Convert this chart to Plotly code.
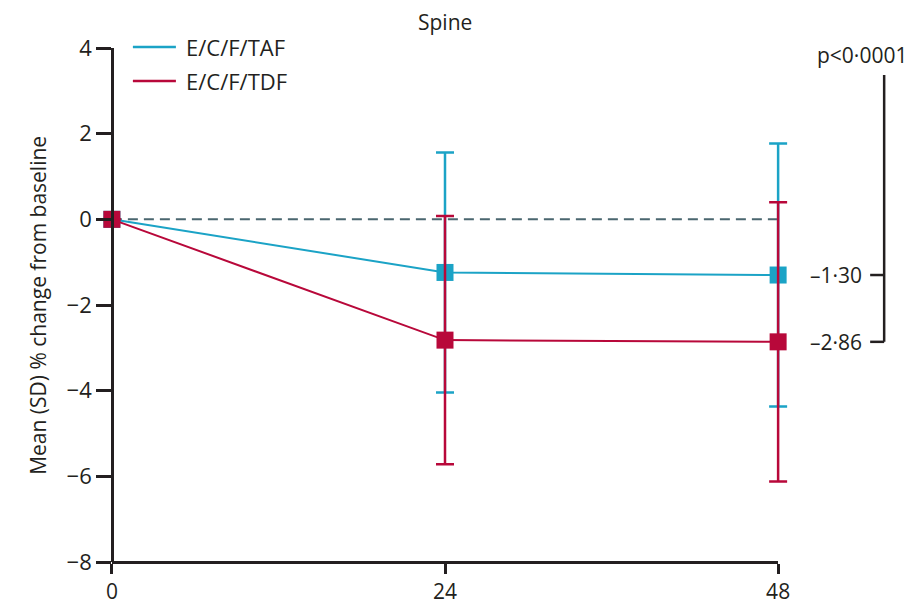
import plotly.graph_objects as go

# Weeks on study and mean (SD) percentage change in spine BMD
weeks = [0, 24, 48]
taf_mean = [0.0, -1.24, -1.30]
taf_sd = [0.0, 2.80, 3.07]
tdf_mean = [0.0, -2.82, -2.86]
tdf_sd = [0.0, 2.90, 3.26]

series_names = ["E/C/F/TAF", "E/C/F/TDF"]
taf_color = "#1ba3c6"
tdf_color = "#b8083a"
ink = "#231f20"

y_ticks = [4, 2, 0, -2, -4, -6, -8]
x_ticks = [0, 24, 48]
p_label = "p<0·0001"
final_labels = ["–1·30", "–2·86"]
final_values = [taf_mean[-1], tdf_mean[-1]]

font_family = "Open Sans"

# Layout geometry (pixels): visible axis spans 0..48 weeks, data axis is padded
# by one week each side so end markers and error bars are never clipped.
W_FIG, H_FIG = 917, 604
AX_LEFT, AX_RIGHT = 112, 778
pad_weeks = 1.0
px_per_week = (AX_RIGHT - AX_LEFT) / 48
PLOT_L = AX_LEFT - pad_weeks * px_per_week
PLOT_W = (48 + 2 * pad_weeks) * px_per_week
PLOT_R = W_FIG - PLOT_L - PLOT_W
PLOT_T, PLOT_B = 48, 42
PLOT_H = H_FIG - PLOT_T - PLOT_B


def px_x(px):
    return (px - PLOT_L) / PLOT_W


def px_y(py):
    return (H_FIG - PLOT_B - py) / PLOT_H


fig = go.Figure()

for mean, sd, color in [(taf_mean, taf_sd, taf_color), (tdf_mean, tdf_sd, tdf_color)]:
    fig.add_trace(go.Scatter(
        x=weeks, y=mean,
        mode="lines+markers",
        line=dict(color=color, width=2),
        marker=dict(symbol="square", size=17, color=color),
        error_y=dict(type="data", array=sd, visible=True, color=color,
                     thickness=2.5, width=9),
        showlegend=False,
        cliponaxis=False,
    ))

# Reference line at zero change
fig.add_shape(type="line", xref="x", yref="y", x0=0, x1=48, y0=0, y1=0,
              line=dict(color="#4a666f", width=2, dash="10px,6px"), layer="below")

# Hand-drawn legend
for i, (name, color) in enumerate(zip(series_names, [taf_color, tdf_color])):
    ypos = px_y(47 + i * 34)
    fig.add_shape(type="line", xref="paper", yref="paper",
                  x0=px_x(133), x1=px_x(176), y0=ypos, y1=ypos,
                  line=dict(color=color, width=2.5))
    fig.add_annotation(xref="paper", yref="paper", x=px_x(184), y=ypos,
                       text=name, showarrow=False, xanchor="left",
                       yanchor="middle",
                       font=dict(family=font_family, size=22, color=ink))

# Bracket on the right comparing week-48 means
bx = px_x(884)
tx = px_x(870)
fig.add_shape(type="line", xref="paper", yref="y", x0=bx, x1=bx,
              y0=3.37, y1=final_values[1], line=dict(color=ink, width=2.5))
for lab, val in zip(final_labels, final_values):
    fig.add_shape(type="line", xref="paper", yref="y", x0=tx, x1=bx,
                  y0=val, y1=val, line=dict(color=ink, width=2.5))
    fig.add_annotation(xref="paper", yref="y", x=px_x(864), y=val, text=lab,
                       showarrow=False, xanchor="right", yanchor="middle",
                       font=dict(family=font_family, size=21, color=ink))
fig.add_annotation(xref="paper", yref="y", x=px_x(862), y=3.84, text=p_label,
                   showarrow=False, xanchor="center", yanchor="middle",
                   font=dict(family=font_family, size=21, color=ink))

# Title and y-axis title
fig.add_annotation(xref="paper", yref="paper", x=px_x(445), y=px_y(22),
                   text="Spine", showarrow=False, xanchor="center",
                   yanchor="middle",
                   font=dict(family=font_family, size=21, color=ink))
fig.add_annotation(xref="paper", yref="paper", x=px_x(38), y=0.5,
                   text="Mean (SD) % change from baseline", textangle=-90,
                   showarrow=False, xanchor="center", yanchor="middle",
                   font=dict(family=font_family, size=21, color=ink))

axis_style = dict(showgrid=False, zeroline=False, showline=True,
                  linecolor=ink, linewidth=2.5, ticks="outside",
                  tickwidth=2.5, tickcolor=ink, automargin=False)

d0 = pad_weeks / (48 + 2 * pad_weeks)
fig.update_layout(
    width=W_FIG, height=H_FIG,
    margin=dict(l=PLOT_L, r=PLOT_R, t=PLOT_T, b=PLOT_B),
    plot_bgcolor="rgba(0,0,0,0)", paper_bgcolor="white",
    showlegend=False,
    # data axis (hidden), padded
    xaxis=dict(range=[-pad_weeks, 48 + pad_weeks], visible=False,
               automargin=False, domain=[0, 1]),
    # visible week axis spanning exactly 0..48, at the bottom of the plot
    xaxis2=dict(range=[0, 48], domain=[d0, 1 - d0], anchor="free", position=0,
                tickvals=x_ticks, ticktext=[str(v) for v in x_ticks],
                ticklen=10, tickfont=dict(family=font_family, size=21, color=ink),
                **axis_style),
    # y axis placed where week 0 falls
    yaxis=dict(range=[-8, 4], tickvals=y_ticks, anchor="free", position=d0,
               ticklen=15, tickfont=dict(family=font_family, size=22, color=ink),
               **axis_style),
)

# an empty trace keeps the visible week axis drawn
fig.add_trace(go.Scatter(x=[None], y=[None], xaxis="x2", yaxis="y",
                         showlegend=False, hoverinfo="skip"))

fig.write_html("out.html")
